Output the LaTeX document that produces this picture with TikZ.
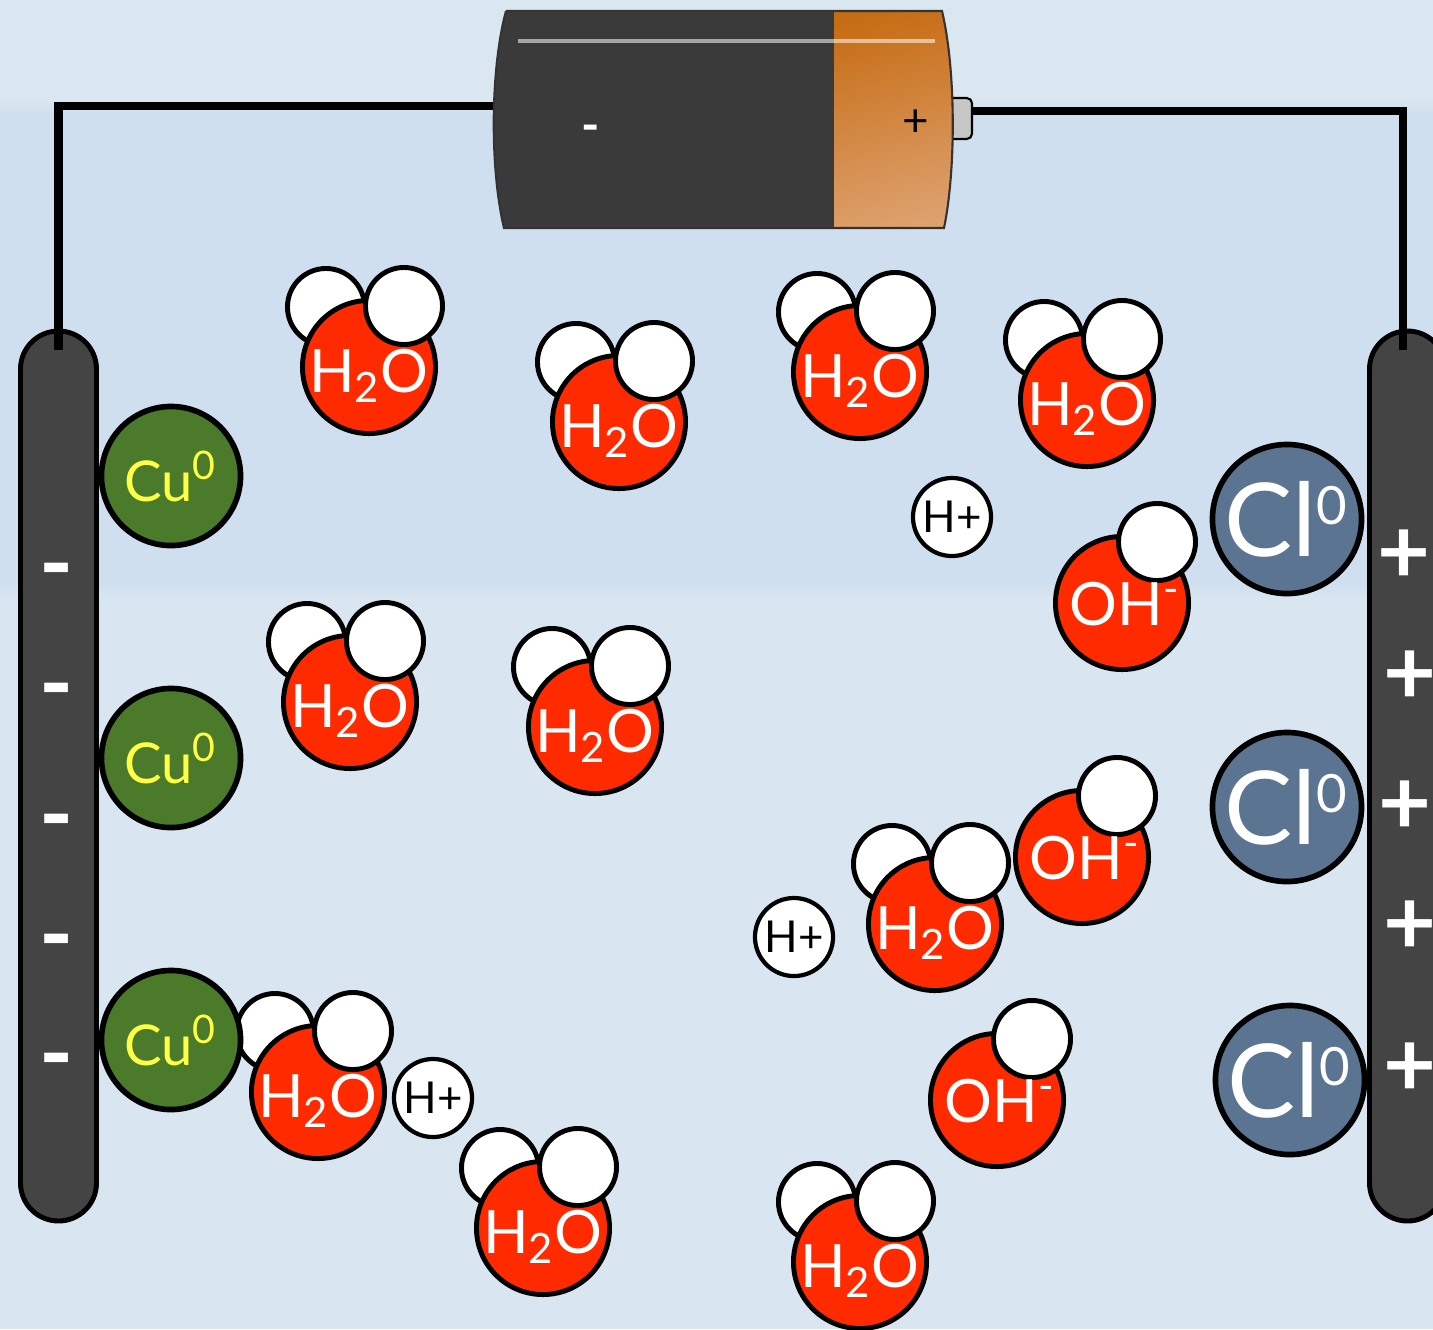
\documentclass[tikz,border=0pt]{standalone}
\usepackage{fontspec}
\setmainfont{Lato}
\usepackage{tikz}
\definecolor{bgtop}{RGB}{218,230,240}
\definecolor{bgmid}{RGB}{208,223,239}
\definecolor{bgbot}{RGB}{217,229,240}
\definecolor{oxred}{RGB}{255,42,0}
\definecolor{cugreen}{RGB}{74,122,42}
\definecolor{cuyellow}{RGB}{255,255,70}
\definecolor{clblue}{RGB}{91,116,146}
\definecolor{rodgray}{RGB}{68,68,68}
\definecolor{cellgray}{RGB}{58,58,58}
\definecolor{cellorange}{RGB}{198,108,20}
\definecolor{cellpeach}{RGB}{222,162,112}

\begin{document}
\begin{tikzpicture}[x=0.01cm,y=-0.01cm,
  atom/.style={circle,draw=black,line width=1.4pt,inner sep=0pt},
  hatom/.style={atom,fill=white,minimum size=0.77cm},
  oatom/.style={atom,fill=oxred,minimum size=1.33cm},
  cuatom/.style={atom,fill=cugreen,minimum size=1.39cm,line width=1.6pt,
    text=cuyellow,font=\fontsize{16}{16}\selectfont},
  clatom/.style={atom,fill=clblue,minimum size=1.49cm,line width=1.6pt,
    text=white,font=\fontsize{29}{29}\selectfont},
  proton/.style={atom,fill=white,minimum size=0.78cm,line width=1.2pt,
    font=\fontsize{12.5}{12.5}\selectfont},
  wlabel/.style={text=white,inner sep=0pt,font=\fontsize{17}{17}\selectfont},
  sign/.style={text=white,inner sep=0pt,font=\bfseries\fontsize{26}{26}\selectfont},
  rod/.style={fill=rodgray,draw=black,line width=1.4pt,rounded corners=0.38cm},
  wire/.style={draw=black,line width=2.3pt}]
  \useasboundingbox (0,0) rectangle (1433,1329);
  \clip (0,0) rectangle (1433,1329);

  \fill[bgtop] (0,0) rectangle (1433,100);
  \shade[top color=bgtop,bottom color=bgmid] (0,100) rectangle (1433,114);
  \fill[bgmid] (0,114) rectangle (1433,584);
  \shade[top color=bgmid,bottom color=bgbot] (0,584) rectangle (1433,598);
  \fill[bgbot] (0,598) rectangle (1433,1329);

  \draw[rod] (20.5,331) rectangle (96.5,1221);
  \draw[rod] (1369.5,331) rectangle (1445.5,1221);

  \coordinate (negpole) at (496,106);
  \coordinate (pospole) at (972,111);
  \coordinate (cathode) at (58.5,350);
  \coordinate (anode) at (1403,350);
  \draw[wire] (cathode) |- (negpole);
  \draw[wire] (pospole) -| (anode);

  \draw[fill=gray!45,line width=0.6pt,rounded corners=1.5pt] (946,98) rectangle (972,139);
  \begin{scope}
    \clip (506,11) -- (942,11) .. controls (956,70) and (956,170) .. (944,228)
      -- (504,228) .. controls (490,170) and (490,70) .. (506,11);
    \fill[cellgray] (480,0) rectangle (834,240);
    \shade[top color=cellorange,bottom color=cellpeach,shading angle=15] (834,0) rectangle (960,240);
    \draw[white,opacity=0.55,line width=1.2pt] (518,41) -- (935,41);
  \end{scope}
  \draw[line width=0.6pt,draw=black!80] (506,11) -- (942,11) .. controls (956,70) and (956,170) .. (944,228)
    -- (504,228) .. controls (490,170) and (490,70) .. (506,11);
  \node[text=white,font=\bfseries\fontsize{14}{14}\selectfont] (cellminus) at (591,134) {-};
  \node[font=\fontsize{13}{13}\selectfont] (cellplus) at (916,123) {+};

  \foreach \y [count=\i] in {566,686,817,937,1056}
    \node[sign] (minus\i) at (57,\y+13) {-};
  \foreach \x/\y [count=\i] in {1404/551,1410/672,1405/802,1410/922,1410/1064}
    \node[sign] (plus\i) at (\x,\y+6) {+};

  \foreach \x/\y [count=\i] in {369/367,619/422,860/372,1087/400,350/702,595/727,935/924,318/1092,543/1228,860/1262}{
    \node[hatom] (hl\i) at (\x-43,\y-60) {};
    \node[oatom] (w\i) at (\x,\y) {};
    \node[hatom] (hr\i) at (\x+35,\y-61) {};
    \node[wlabel] (wt\i) at (\x,\y+9) {H\textsubscript{2}O};
  }
  \foreach \x/\y [count=\i] in {1122/603,1082/857,997/1100}{
    \node[oatom] (oh\i) at (\x,\y) {};
    \node[hatom] (ohh\i) at (\x+35,\y-61) {};
    \node[wlabel] (oht\i) at (\x+3,\y+1) {OH\textsuperscript{-}};
  }
  \foreach \x/\y [count=\i] in {952/517,794/937,433/1098}
    \node[proton] (hp\i) at (\x,\y) {H+};
  \foreach \y [count=\i] in {476,758,1040}
    \node[cuatom] (cu\i) at (171,\y) {Cu\textsuperscript{0}};
  \foreach \x/\y [count=\i] in {1287/519,1287/807,1290/1080}
    \node[clatom] (cl\i) at (\x,\y) {Cl\textsuperscript{\fontsize{15}{15}\selectfont 0}};
\end{tikzpicture}
\end{document}
